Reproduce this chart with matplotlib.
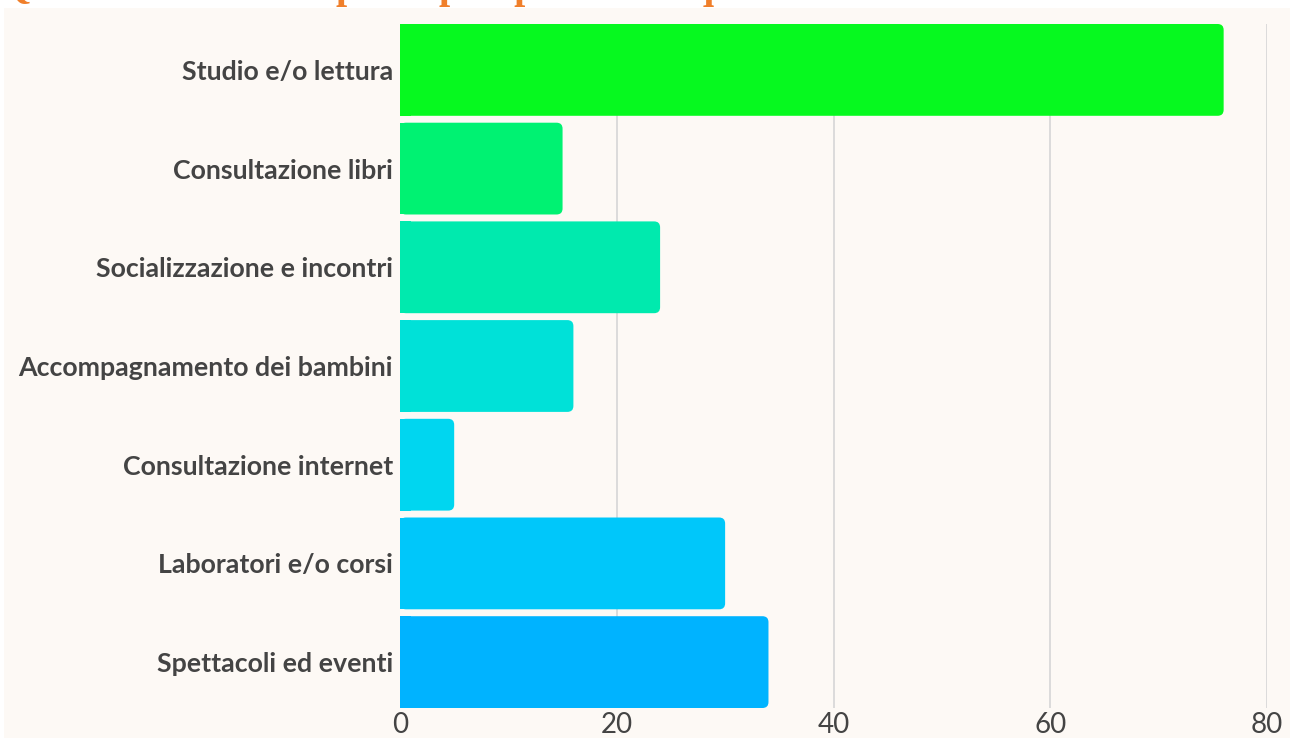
import matplotlib
matplotlib.use("Agg")
import matplotlib.pyplot as plt
from matplotlib.patches import Rectangle, FancyBboxPatch

categories = ["Studio e/o lettura", "Consultazione libri", "Socializzazione e incontri",
              "Accompagnamento dei bambini", "Consultazione internet",
              "Laboratori e/o corsi", "Spettacoli ed eventi"]
values = [76, 15, 24, 16, 5, 30, 34]
colors = ["#06F91F", "#00F272", "#00EAAE", "#00E1D8", "#00D6F0", "#00C7FA", "#00B3FF"]
xticks = [0, 20, 40, 60, 80]
title = "Quali sono i motivi principali per cui frequenti la biblioteca?"

W, H = 1294, 738
fig = plt.figure(figsize=(W / 100, H / 100), dpi=100, facecolor="white")

# clipped title (behind the panel)
fig.text(0.0, 1 + 2 / H, title, ha="left", va="baseline", fontsize=29,
         fontweight="bold", family="Liberation Serif", color="#F07F2A", zorder=0)
# cream panel
fig.patches.append(Rectangle((4 / W, 0), (1290 - 4) / W, (H - 8) / H,
                             transform=fig.transFigure, facecolor="#FDF9F5",
                             edgecolor="none", zorder=1))

left, right = 400 / W, 1267 / W
top, bottom = 1 - 24 / H, 1 - 708 / H
ax = fig.add_axes([left, bottom, right - left, top - bottom], zorder=2)
ax.set_facecolor("none")

bh = 0.93
ax.set_xlim(0, 80)
ax.set_ylim(len(categories) - 1 + bh / 2, -bh / 2)

# rounded bars
xu_per_px = 80 / (1267 - 400)
yu_per_px = (len(categories) - 1 + bh) / (708 - 24)
r_px = 6
for i, (v, c) in enumerate(zip(values, colors)):
    p = FancyBboxPatch((0, i - bh / 2), v, bh,
                       boxstyle=f"round,pad=0,rounding_size={r_px * xu_per_px}",
                       mutation_aspect=yu_per_px / xu_per_px,
                       facecolor=c, edgecolor="none", zorder=3)
    ax.add_patch(p)
# square left edge
ax.barh(range(len(categories)), [min(v, 1.0) for v in values], height=bh,
        color=colors, zorder=3, linewidth=0)

for x in xticks[1:]:
    ax.axvline(x, color="#D6D6D6", linewidth=1.2, zorder=1)

for s in ax.spines.values():
    s.set_visible(False)
ax.set_xticks(xticks)
ax.set_xticklabels([str(x) for x in xticks], fontsize=20, family="Lato", color="#444444")
ax.set_yticks(range(len(categories)))
ax.set_yticklabels(categories, fontsize=19.3, family="Lato", fontweight="bold", color="#444444")
ax.tick_params(axis="both", length=0)
ax.tick_params(axis="x", pad=3)
ax.tick_params(axis="y", pad=5)

fig.savefig("out.png", dpi=100, facecolor="white")
